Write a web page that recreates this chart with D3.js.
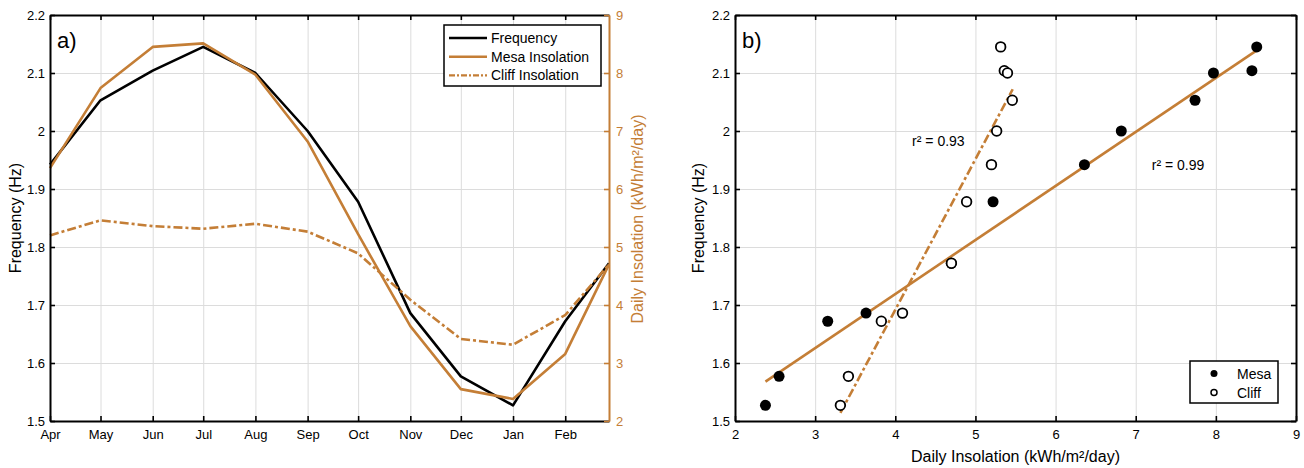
<!DOCTYPE html>
<html>
<head>
<meta charset="utf-8">
<script src="https://cdn.jsdelivr.net/npm/d3@7"></script>
<style>
  body { margin: 0; background: #fff; }
  svg { font-family: "Liberation Sans", Arial, sans-serif; }
  .grid line { stroke: #dcdcdc; stroke-width: 1; }
  .grid path { display: none; }
</style>
</head>
<body>
<div class="svgWrapper"></div>
<script>
// Data //
const monthDates = [
  "2015-04-01", "2015-05-01", "2015-06-01", "2015-07-01", "2015-08-01", "2015-09-01",
  "2015-10-01", "2015-11-01", "2015-12-01", "2016-01-01", "2016-02-01", "2016-02-27"
];
const frequency = [1.942, 2.053, 2.104, 2.145, 2.1, 2.0, 1.878, 1.686, 1.577, 1.527, 1.672, 1.772];
const mesaInsolation = [6.36, 7.74, 8.45, 8.51, 7.97, 6.82, 5.22, 3.635, 2.55, 2.38, 3.157, 4.70];
const cliffInsolation = [5.20, 5.46, 5.36, 5.315, 5.40, 5.265, 4.89, 4.09, 3.415, 3.315, 3.826, 4.70];

// fitted lines (x = insolation, y = frequency)
const mesaFitX = [2.38, 8.51];
const mesaFitY = [1.568, 2.139];
const cliffFitX = [3.315, 5.465];
const cliffFitY = [1.514, 2.072];

const freqTicks = [1.5, 1.6, 1.7, 1.8, 1.9, 2.0, 2.1, 2.2];
const insolTicks = [2, 3, 4, 5, 6, 7, 8, 9];

// Styles //
const orange = "#c47e36";
const W = 1304, H = 468;
const panelA = { left: 50, right: 609, top: 15, bottom: 421 };
const panelB = { left: 735, right: 1296, top: 15, bottom: 421 };
const parseDate = d3.timeParse("%Y-%m-%d");
const dates = monthDates.map(parseDate);
const fmtFreq = d => (d === 2 ? "2" : d3.format(".1f")(d));

const svg = d3
  .select(".svgWrapper")
  .append("svg")
  .attr("width", W)
  .attr("height", H);

function styleAxis(g, color, labelSize) {
  g.select(".domain").attr("stroke", color).attr("stroke-width", 2);
  g.selectAll(".tick line").attr("stroke", color).attr("stroke-width", 1.6);
  g.selectAll(".tick text").attr("fill", color).style("font-size", labelSize + "px");
}

// ===== Panel a) =====
const xA = d3.scaleTime()
  .domain([dates[0], dates[dates.length - 1]])
  .range([panelA.left, panelA.right]);
const yA = d3.scaleLinear().domain([1.5, 2.2]).range([panelA.bottom, panelA.top]);
const yA2 = d3.scaleLinear().domain([2, 9]).range([panelA.bottom, panelA.top]);
const monthTicks = d3.timeMonth.range(parseDate("2015-04-01"), parseDate("2016-03-01"));

const chartA = svg.append("g").attr("class", "chartA");

// grid
chartA.append("g").attr("class", "grid")
  .attr("transform", `translate(0,${panelA.bottom})`)
  .call(d3.axisBottom(xA).tickValues(monthTicks).tickSize(-(panelA.bottom - panelA.top)).tickFormat(""));
chartA.append("g").attr("class", "grid")
  .attr("transform", `translate(${panelA.left},0)`)
  .call(d3.axisLeft(yA).tickValues(freqTicks).tickSize(-(panelA.right - panelA.left)).tickFormat(""));

// lines
const lineFreq = d3.line().x((d, i) => xA(dates[i])).y(d => yA(d));
const lineInsol = d3.line().x((d, i) => xA(dates[i])).y(d => yA2(d));

chartA.append("path").datum(frequency)
  .attr("d", lineFreq).attr("fill", "none")
  .attr("stroke", "#000").attr("stroke-width", 2.6).attr("stroke-linejoin", "round");
chartA.append("path").datum(mesaInsolation)
  .attr("d", lineInsol).attr("fill", "none")
  .attr("stroke", orange).attr("stroke-width", 2.6).attr("stroke-linejoin", "round");
chartA.append("path").datum(cliffInsolation)
  .attr("d", lineInsol).attr("fill", "none")
  .attr("stroke", orange).attr("stroke-width", 2.6)
  .attr("stroke-dasharray", "9,3,3,3");

// axes
chartA.append("g")
  .attr("transform", `translate(0,${panelA.top})`)
  .call(d3.axisTop(xA).tickValues(monthTicks).tickSizeInner(-5).tickSizeOuter(0).tickFormat(""))
  .call(g => styleAxis(g, "#000", 13));
chartA.append("g")
  .attr("transform", `translate(0,${panelA.bottom})`)
  .call(d3.axisBottom(xA).tickValues(monthTicks).tickSizeInner(-5).tickSizeOuter(0)
    .tickPadding(9).tickFormat(d3.timeFormat("%b")))
  .call(g => styleAxis(g, "#000", 13));
chartA.append("g")
  .attr("transform", `translate(${panelA.left},0)`)
  .call(d3.axisLeft(yA).tickValues(freqTicks).tickSizeInner(-5).tickSizeOuter(0)
    .tickPadding(5).tickFormat(fmtFreq))
  .call(g => styleAxis(g, "#000", 13));
chartA.append("g")
  .attr("transform", `translate(${panelA.right},0)`)
  .call(d3.axisRight(yA2).tickValues(insolTicks).tickSizeInner(-5).tickSizeOuter(0)
    .tickPadding(7).tickFormat(d3.format("d")))
  .call(g => styleAxis(g, orange, 13));

// axis titles
chartA.append("text")
  .attr("transform", `translate(21,${(panelA.top + panelA.bottom) / 2}) rotate(-90)`)
  .attr("text-anchor", "middle")
  .style("font-size", "16px")
  .text("Frequency (Hz)");
chartA.append("text")
  .attr("transform", `translate(643,${(panelA.top + panelA.bottom) / 2 + 1}) rotate(-90)`)
  .attr("text-anchor", "middle")
  .attr("fill", orange)
  .style("font-size", "16px")
  .text("Daily Insolation (kWh/m²/day)");

chartA.append("text")
  .attr("x", 57).attr("y", 48)
  .style("font-size", "22px")
  .text("a)");

// legend a
const legendA = chartA.append("g").attr("id", "legendA");
legendA.append("rect")
  .attr("x", 444).attr("y", 25).attr("width", 157).attr("height", 61)
  .attr("fill", "#fff").attr("stroke", "#000").attr("stroke-width", 1.5);
const legendItemsA = [
  { name: "Frequency", color: "#000", dash: null },
  { name: "Mesa Insolation", color: orange, dash: null },
  { name: "Cliff Insolation", color: orange, dash: "6,2,2,2" }
];
legendItemsA.forEach((item, i) => {
  const y = 38 + i * 18.7;
  legendA.append("line")
    .attr("x1", 449).attr("x2", 487).attr("y1", y).attr("y2", y)
    .attr("stroke", item.color).attr("stroke-width", 2.4)
    .attr("stroke-dasharray", item.dash);
  legendA.append("text")
    .attr("x", 491).attr("y", y + 5)
    .style("font-size", "14px")
    .text(item.name);
});

// ===== Panel b) =====
const xB = d3.scaleLinear().domain([2, 9]).range([panelB.left, panelB.right]);
const yB = d3.scaleLinear().domain([1.5, 2.2]).range([panelB.bottom, panelB.top]);

const chartB = svg.append("g").attr("class", "chartB");

chartB.append("g").attr("class", "grid")
  .attr("transform", `translate(0,${panelB.bottom})`)
  .call(d3.axisBottom(xB).tickValues(insolTicks).tickSize(-(panelB.bottom - panelB.top)).tickFormat(""));
chartB.append("g").attr("class", "grid")
  .attr("transform", `translate(${panelB.left},0)`)
  .call(d3.axisLeft(yB).tickValues(freqTicks).tickSize(-(panelB.right - panelB.left)).tickFormat(""));

// fit lines
chartB.append("line")
  .attr("x1", xB(mesaFitX[0])).attr("y1", yB(mesaFitY[0]))
  .attr("x2", xB(mesaFitX[1])).attr("y2", yB(mesaFitY[1]))
  .attr("stroke", orange).attr("stroke-width", 2.6);
chartB.append("line")
  .attr("x1", xB(cliffFitX[0])).attr("y1", yB(cliffFitY[0]))
  .attr("x2", xB(cliffFitX[1])).attr("y2", yB(cliffFitY[1]))
  .attr("stroke", orange).attr("stroke-width", 2.6)
  .attr("stroke-dasharray", "9,3,3,3");

// points
chartB.selectAll(".mesa")
  .data(mesaInsolation)
  .enter()
  .append("circle")
  .attr("class", "mesa")
  .attr("cx", d => xB(d))
  .attr("cy", (d, i) => yB(frequency[i]))
  .attr("r", 5.5)
  .attr("fill", "#000");
chartB.selectAll(".cliff")
  .data(cliffInsolation)
  .enter()
  .append("circle")
  .attr("class", "cliff")
  .attr("cx", d => xB(d))
  .attr("cy", (d, i) => yB(frequency[i]))
  .attr("r", 4.8)
  .attr("fill", "#fff")
  .attr("stroke", "#000")
  .attr("stroke-width", 1.8);

// axes
chartB.append("g")
  .attr("transform", `translate(0,${panelB.top})`)
  .call(d3.axisTop(xB).tickValues(insolTicks).tickSizeInner(-5).tickSizeOuter(0).tickFormat(""))
  .call(g => styleAxis(g, "#000", 13));
chartB.append("g")
  .attr("transform", `translate(0,${panelB.bottom})`)
  .call(d3.axisBottom(xB).tickValues(insolTicks).tickSizeInner(-5).tickSizeOuter(0)
    .tickPadding(9).tickFormat(d3.format("d")))
  .call(g => styleAxis(g, "#000", 13));
chartB.append("g")
  .attr("transform", `translate(${panelB.left},0)`)
  .call(d3.axisLeft(yB).tickValues(freqTicks).tickSizeInner(-5).tickSizeOuter(0)
    .tickPadding(5).tickFormat(fmtFreq))
  .call(g => styleAxis(g, "#000", 13));
chartB.append("g")
  .attr("transform", `translate(${panelB.right},0)`)
  .call(d3.axisRight(yB).tickValues(freqTicks).tickSizeInner(-5).tickSizeOuter(0).tickFormat(""))
  .call(g => styleAxis(g, "#000", 13));

chartB.append("text")
  .attr("transform", `translate(704,${(panelB.top + panelB.bottom) / 2}) rotate(-90)`)
  .attr("text-anchor", "middle")
  .style("font-size", "16px")
  .text("Frequency (Hz)");
chartB.append("text")
  .attr("x", (panelB.left + panelB.right) / 2)
  .attr("y", 462)
  .attr("text-anchor", "middle")
  .style("font-size", "16px")
  .text("Daily Insolation (kWh/m²/day)");

chartB.append("text")
  .attr("x", 742).attr("y", 48)
  .style("font-size", "22px")
  .text("b)");

chartB.append("text")
  .attr("x", xB(4.21)).attr("y", yB(1.975))
  .style("font-size", "14px")
  .text("r² = 0.93");
chartB.append("text")
  .attr("x", xB(7.20)).attr("y", yB(1.932))
  .style("font-size", "14px")
  .text("r² = 0.99");

// legend b
const legendB = chartB.append("g").attr("id", "legendB");
legendB.append("rect")
  .attr("x", 1190).attr("y", 361).attr("width", 88).attr("height", 42)
  .attr("fill", "#fff").attr("stroke", "#000").attr("stroke-width", 1.5);
legendB.append("circle")
  .attr("cx", 1214).attr("cy", 373.5).attr("r", 3.5).attr("fill", "#000");
legendB.append("circle")
  .attr("cx", 1214).attr("cy", 392.5).attr("r", 3)
  .attr("fill", "#fff").attr("stroke", "#000").attr("stroke-width", 1.5);
legendB.append("text")
  .attr("x", 1237).attr("y", 378.5).style("font-size", "14px").text("Mesa");
legendB.append("text")
  .attr("x", 1237).attr("y", 397.5).style("font-size", "14px").text("Cliff");
</script>
</body>
</html>
